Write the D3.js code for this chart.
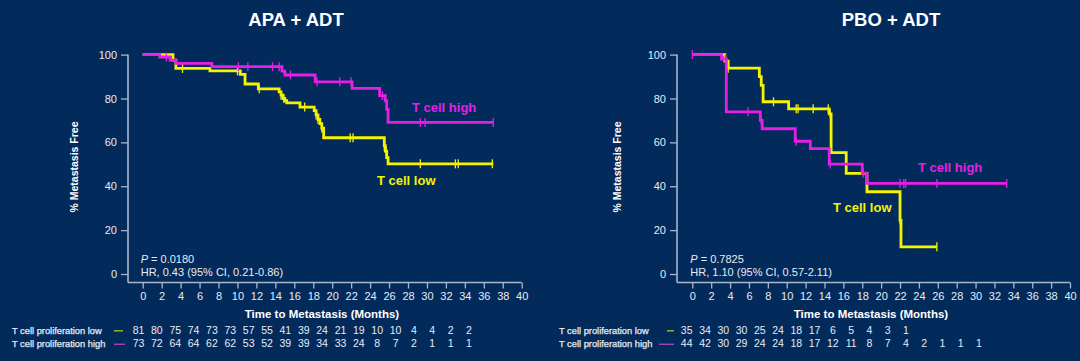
<!DOCTYPE html>
<html><head><meta charset="utf-8">
<script src="https://cdn.jsdelivr.net/npm/d3@7/dist/d3.min.js"></script>
<style>
html,body{margin:0;padding:0;background:#022a5b;}
svg{display:block;font-family:"Liberation Sans",Arial,sans-serif;}
</style></head><body>
<svg id="c" width="1080" height="361"></svg>
<script>
// ---------- DATA ----------
const xTicks = d3.range(0, 41, 2);
const yTicks = [0, 20, 40, 60, 80, 100];

// APA + ADT
const apaLowTimes  = [0, 3.2, 3.5, 7.1, 10.3, 10.8, 12.2, 14.4, 14.6, 14.8, 15.0, 15.2, 16.6, 18.1, 18.3, 18.5, 18.7, 18.9, 19.1, 25.5, 25.6, 25.75, 25.9];
const apaLowSurv   = [100, 97.5, 93.7, 92.6, 91, 86.6, 84.4, 83, 81.5, 80, 79, 78, 76.1, 74.5, 72.5, 70.5, 68.5, 66.5, 62.1, 58.5, 56, 53, 50.2];
const apaLowEnd    = 37.0;
const apaLowCens   = [4.2, 10.0, 12.3, 14.6, 14.9, 17.1, 18.3, 18.5, 18.9, 21.9, 22.2, 25.5, 25.7, 29.3, 33.0, 33.3, 36.9];

const apaHighTimes = [0, 1.8, 2.9, 3.5, 7.3, 14.7, 15.0, 18.2, 22.1, 25.0, 25.6, 25.75, 25.9];
const apaHighSurv  = [100, 98.9, 97.5, 96, 94.5, 92.5, 90.7, 87.6, 84.6, 81.3, 79, 75, 69.1];
const apaHighEnd   = 37.0;
const apaHighCens  = [2.5, 10.1, 11.1, 13.7, 14.4, 15.6, 18.4, 20.8, 22.0, 25.3, 29.3, 29.8, 37.0];

// PBO + ADT
const pboLowTimes  = [0, 3.45, 3.8, 7.1, 7.3, 7.5, 10.2, 14.5, 14.7, 16.3, 18.5, 22.0, 22.1];
const pboLowSurv   = [100, 97, 93.8, 90, 86, 78.5, 75.3, 73, 55.3, 45.9, 37.5, 24.6, 12.4];
const pboLowEnd    = 25.9;
const pboLowCens   = [3.8, 8.6, 11.0, 11.2, 12.8, 14.4, 14.6, 22.0, 25.9];

const pboHighTimes = [0, 3.1, 3.6, 7.2, 7.4, 10.9, 12.5, 14.5, 18.0, 18.5];
const pboHighSurv  = [100, 98, 73.9, 70, 66.2, 60.5, 57.1, 50.1, 46, 41.3];
const pboHighEnd   = 33.3;
const pboHighCens  = [0, 3.5, 5.9, 7.3, 11.0, 14.6, 18.1, 22.0, 22.4, 22.6, 25.9, 33.3];

// numbers at risk
const apaRiskLow  = [81, 80, 75, 74, 73, 73, 57, 55, 41, 39, 24, 21, 19, 10, 10, 4, 4, 2, 2];
const apaRiskHigh = [73, 72, 64, 64, 62, 62, 53, 52, 39, 39, 34, 33, 24, 8, 7, 2, 1, 1, 1];
const pboRiskLow  = [35, 34, 30, 30, 25, 24, 18, 17, 6, 5, 4, 3, 1];
const pboRiskHigh = [44, 42, 30, 29, 24, 24, 18, 17, 12, 11, 8, 7, 4, 2, 1, 1, 1];

const titles   = ["APA + ADT", "PBO + ADT"];
const pTexts   = ["0.0180", "0.7825"];
const hrTexts  = ["HR, 0.43 (95% CI, 0.21-0.86)", "HR, 1.10 (95% CI, 0.57-2.11)"];
const rowLabels = ["T cell proliferation low", "T cell proliferation high"];

// ---------- STYLE ----------
const YELLOW = "#f4f400", MAGENTA = "#e61ee6";
const AXIS = "#a7b6cb", TXT = "#e6ecf4";

const svg = d3.select("#c");

function panel(o) {
  const g = svg.append("g");
  const x = d3.scaleLinear().domain([0, 40]).range([o.x0, o.x1]);
  const y = d3.scaleLinear().domain([0, 100]).range([274, 54.6]);
  const axY = 282.5;

  // title
  g.append("text").attr("x", o.titleX).attr("y", 26).attr("text-anchor", "middle")
    .attr("fill", "#ffffff").attr("font-weight", "bold").attr("font-size", 18.5).text(o.title);

  // y axis
  const ya = g.append("g").attr("transform", `translate(${o.axX},0)`)
    .call(d3.axisLeft(y).tickValues(yTicks).tickSize(7).tickPadding(4));
  ya.select(".domain").remove();
  ya.selectAll("line").attr("stroke", AXIS).attr("stroke-width", 1.3);
  ya.selectAll("text").attr("fill", TXT).attr("font-size", 11).attr("font-family", "Liberation Sans, Arial, sans-serif");
  g.append("line").attr("x1", o.axX).attr("x2", o.axX).attr("y1", y(100)).attr("y2", axY)
    .attr("stroke", AXIS).attr("stroke-width", 1.6);

  // x axis
  const xa = g.append("g").attr("transform", `translate(0,${axY})`)
    .call(d3.axisBottom(x).tickValues(xTicks).tickSize(6).tickPadding(4));
  xa.select(".domain").remove();
  xa.selectAll("line").attr("stroke", AXIS).attr("stroke-width", 1.3);
  xa.selectAll("text").attr("fill", TXT).attr("font-size", 11).attr("font-family", "Liberation Sans, Arial, sans-serif");
  g.append("line").attr("x1", o.axX).attr("x2", x(40)).attr("y1", axY).attr("y2", axY)
    .attr("stroke", AXIS).attr("stroke-width", 1.6);

  // axis titles
  g.append("text").attr("transform", `translate(${o.yLabX},167) rotate(-90)`)
    .attr("text-anchor", "middle").attr("fill", "#ffffff").attr("font-weight", "bold")
    .attr("font-size", 10.5).text("% Metastasis Free");
  g.append("text").attr("x", o.xLabX).attr("y", 318).attr("text-anchor", "middle")
    .attr("fill", "#ffffff").attr("font-weight", "bold").attr("font-size", 11.5)
    .text("Time to Metastasis (Months)");

  // curves
  o.series.forEach(s => {
    const pts = s.times.map((t, i) => [t, s.surv[i]]);
    pts.push([s.end, s.surv[s.surv.length - 1]]);
    const line = d3.line().x(d => x(d[0])).y(d => y(d[1])).curve(d3.curveStepAfter);
    g.append("path").datum(pts).attr("d", line).attr("fill", "none")
      .attr("stroke", s.color).attr("stroke-width", 2.8);
    const survAt = t => { let v = s.surv[0]; s.times.forEach((tt, i) => { if (tt <= t) v = s.surv[i]; }); return v; };
    g.selectAll(null).data(s.cens).enter().append("line")
      .attr("x1", d => x(d)).attr("x2", d => x(d))
      .attr("y1", d => y(survAt(d)) - 4.5).attr("y2", d => y(survAt(d)) + 4.5)
      .attr("stroke", s.color).attr("stroke-width", 1.3);
    g.append("text").attr("x", s.labX).attr("y", s.labY).attr("fill", s.color)
      .attr("font-weight", "bold").attr("font-size", 13).text(s.label);
  });

  // stats
  const pt = g.append("text").attr("x", x(0) - 2).attr("y", 262.5).attr("fill", TXT).attr("font-size", 11);
  pt.append("tspan").attr("font-style", "italic").text("P");
  pt.append("tspan").text(" = " + o.p);
  g.append("text").attr("x", x(0) - 2).attr("y", 276).attr("fill", TXT).attr("font-size", 11).text(o.hr);

  // risk table
  const rx = d3.scaleLinear().domain([0, o.riskMax]).range([o.r0, o.r1]);
  [[o.riskLow, 334, "#9aae34", 330.8, o.legLow], [o.riskHigh, 346.5, "#a43cc4", 344.3, o.legHigh]].forEach((r, k) => {
    g.append("text").attr("x", o.labX).attr("y", r[1]).attr("fill", TXT)
      .attr("font-size", 9.3).attr("stroke", TXT).attr("stroke-width", 0.25).text(rowLabels[k]);
    g.append("line").attr("x1", r[4][0]).attr("x2", r[4][1]).attr("y1", r[3]).attr("y2", r[3])
      .attr("stroke", r[2]).attr("stroke-width", 1.5);
    g.selectAll(null).data(r[0]).enter().append("text")
      .attr("x", (d, i) => rx(i * 2)).attr("y", r[1]).attr("text-anchor", "middle")
      .attr("fill", TXT).attr("font-size", 10.5).text(d => d);
  });
}

panel({
  title: titles[0], titleX: 296, x0: 142.7, x1: 521.7, axX: 128, yLabX: 78, xLabX: 322,
  p: pTexts[0], hr: hrTexts[0],
  series: [
    {times: apaLowTimes, surv: apaLowSurv, end: apaLowEnd, cens: apaLowCens, color: YELLOW, label: "T cell low", labX: 377, labY: 185},
    {times: apaHighTimes, surv: apaHighSurv, end: apaHighEnd, cens: apaHighCens, color: MAGENTA, label: "T cell high", labX: 412, labY: 112}
  ],
  riskLow: apaRiskLow, riskHigh: apaRiskHigh, riskMax: 36, r0: 138.5, r1: 469,
  labX: 12, legLow: [114, 123], legHigh: [114, 125]
});

panel({
  title: titles[1], titleX: 891, x0: 692.3, x1: 1070, axX: 677, yLabX: 621, xLabX: 871,
  p: pTexts[1], hr: hrTexts[1],
  series: [
    {times: pboLowTimes, surv: pboLowSurv, end: pboLowEnd, cens: pboLowCens, color: YELLOW, label: "T cell low", labX: 833, labY: 212},
    {times: pboHighTimes, surv: pboHighSurv, end: pboHighEnd, cens: pboHighCens, color: MAGENTA, label: "T cell high", labX: 918, labY: 172}
  ],
  riskLow: pboRiskLow, riskHigh: pboRiskHigh, riskMax: 32, r0: 686.7, r1: 979,
  labX: 559, legLow: [667, 674], legHigh: [659, 674]
});
</script>
</body></html>
